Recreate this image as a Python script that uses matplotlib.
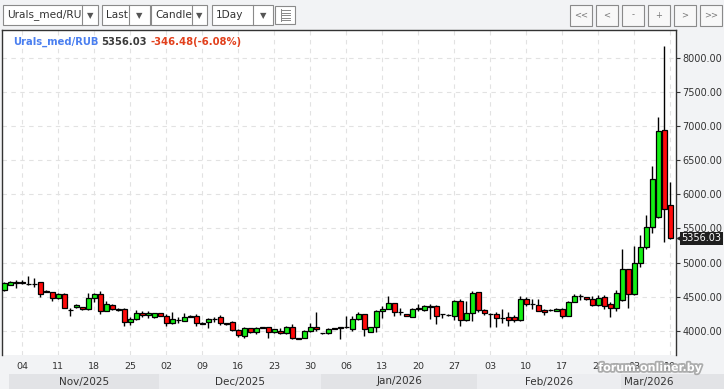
import pandas as pd
import matplotlib
matplotlib.use("Agg")
import matplotlib.pyplot as plt
import matplotlib.patheffects as pe
from matplotlib.patches import Rectangle
from matplotlib.transforms import Bbox, TransformedBbox, blended_transform_factory

W, H = 724, 389

symbol = "Urals_med/RUB"
change_txt = "-346.48(-6.08%)"

# trading days: every day except saturday
first_day = "2025-10-31"
last_day = "2026-03-10"

opens = [
    4600, 4680, 4720, 4710, 4692, 4690, 4712, 4585, 4566, 4478,
    4537, 4312, 4347, 4347, 4318, 4478, 4541, 4297, 4376, 4320,
    4322, 4127, 4171, 4259, 4230, 4200, 4259, 4220, 4113, 4168,
    4151, 4218, 4220, 4112, 4127, 4176, 4200, 4112, 4127, 4015,
    3931, 4039, 3981, 4052, 4054, 3981, 4005, 3966, 4064, 3895,
    3902, 4005, 4054, 3966, 3966, 4038, 4052, 4062, 4025, 4171,
    4244, 3990, 4063, 4293, 4322, 4405, 4282, 4244, 4210, 4332,
    4307, 4347, 4370, 4247, 4237, 4225, 4439, 4161, 4259, 4566,
    4307, 4252, 4244, 4192, 4200, 4200, 4161, 4468, 4392, 4380,
    4307, 4312, 4297, 4322, 4225, 4430, 4516, 4493, 4468, 4380,
    4493, 4390, 4332, 4454, 4903, 4537, 4990, 5233, 5517, 5663,
    6941, 5843]
highs = [
    4715, 4725, 4745, 4740, 4805, 4770, 4720, 4595, 4575, 4560,
    4555, 4335, 4400, 4355, 4552, 4560, 4590, 4435, 4390, 4330,
    4330, 4210, 4303, 4300, 4298, 4265, 4268, 4250, 4283, 4210,
    4270, 4235, 4250, 4125, 4185, 4210, 4235, 4120, 4150, 4025,
    4060, 4050, 4064, 4065, 4065, 4030, 4040, 4070, 4100, 3905,
    4010, 4120, 4273, 3970, 4045, 4050, 4060, 4220, 4220, 4283,
    4250, 4065, 4305, 4370, 4517, 4410, 4340, 4255, 4330, 4400,
    4380, 4390, 4375, 4255, 4245, 4455, 4475, 4439, 4585, 4570,
    4320, 4262, 4280, 4315, 4280, 4240, 4510, 4500, 4475, 4475,
    4317, 4325, 4330, 4340, 4440, 4535, 4540, 4500, 4510, 4530,
    4530, 4420, 4600, 5200, 4910, 5244, 5405, 5697, 6414, 7126,
    8170, 6175]
lows = [
    4590, 4670, 4625, 4690, 4673, 4640, 4495, 4570, 4435, 4470,
    4330, 4225, 4340, 4310, 4310, 4430, 4245, 4290, 4310, 4300,
    4078, 4085, 4160, 4200, 4190, 4195, 4215, 4075, 4105, 4115,
    4145, 4200, 4075, 4100, 4050, 4130, 4090, 4095, 3995, 3915,
    3900, 3975, 3950, 4040, 3893, 3970, 3950, 3960, 3880, 3885,
    3895, 3990, 4000, 3962, 3955, 4025, 3879, 4040, 3995, 4165,
    3931, 3985, 3990, 4190, 4315, 4220, 4235, 4215, 4200, 4290,
    4300, 4180, 4098, 4195, 4225, 4165, 4078, 4150, 4140, 4285,
    4240, 4060, 4060, 4110, 4070, 4130, 4150, 4370, 4320, 4320,
    4240, 4300, 4290, 4195, 4220, 4425, 4450, 4450, 4365, 4365,
    4320, 4210, 4300, 4440, 4332, 4530, 4941, 5200, 5429, 5650,
    5306, 5340]
closes = [
    4705, 4715, 4698, 4702, 4688, 4684, 4541, 4578, 4478, 4541,
    4332, 4305, 4380, 4318, 4478, 4541, 4297, 4390, 4318, 4312,
    4127, 4176, 4259, 4230, 4259, 4259, 4225, 4113, 4171, 4163,
    4200, 4212, 4113, 4106, 4171, 4172, 4113, 4108, 4015, 3941,
    4039, 3981, 4039, 4048, 3981, 4025, 3966, 4064, 3893, 3890,
    4005, 4054, 4025, 3966, 4025, 4032, 4048, 4057, 4171, 4244,
    4025, 4054, 4293, 4322, 4405, 4273, 4278, 4220, 4322, 4328,
    4370, 4370, 4225, 4243, 4233, 4439, 4161, 4259, 4552, 4307,
    4259, 4248, 4186, 4188, 4161, 4161, 4468, 4395, 4388, 4293,
    4283, 4308, 4322, 4225, 4430, 4512, 4514, 4468, 4380, 4478,
    4370, 4332, 4552, 4903, 4537, 4990, 5233, 5517, 6219, 6926,
    5780, 5356.03]

y_ticks = [4000, 4500, 5000, 5500, 6000, 6500, 7000, 7500, 8000]

days = pd.date_range(first_day, last_day)
days = days[days.dayofweek != 5]

UP = "#14ee14"
DOWN = "#ff0a0a"
BG = "#f2f3f5"
TXT = "#333333"


def fr(x0, y0, x1, y1):
    # pixel box (top-left origin) -> figure rect
    return [x0 / W, 1 - y1 / H, (x1 - x0) / W, (y1 - y0) / H]


fig = plt.figure(figsize=(W / 100, H / 100), dpi=100, facecolor=BG)

# ---- main price axes
ax = fig.add_axes(fr(2, 30, 676, 355), facecolor="white")
xmin, xmax = -0.38, 111.95
ax.set_xlim(xmin, xmax)
ax.set_ylim(3649, 8404)

for i in range(len(days)):
    o, h, l, c = opens[i], highs[i], lows[i], closes[i]
    ax.vlines(i, l, h, color="black", lw=1.0, zorder=2)
    ax.bar(i, abs(c - o), bottom=min(o, c), width=0.86,
           color=UP if c >= o else DOWN, edgecolor="black", lw=0.9, zorder=3)

tick_idx = [i for i, d in enumerate(days) if d.dayofweek == 1]
ax.set_xticks(tick_idx)
ax.set_xticklabels([days[i].strftime("%d") for i in tick_idx])
ax.set_yticks(y_ticks)
ax.set_yticklabels([f"{v:.2f}" for v in y_ticks])
ax.yaxis.tick_right()
ax.tick_params(axis="x", length=0, pad=5, labelsize=6.8, labelcolor=TXT)
ax.tick_params(axis="y", length=3, width=0.8, color="#333", pad=1.5,
               labelsize=7, labelcolor=TXT)
ax.grid(color="#e2e2e2", linestyle=(0, (4, 4)), lw=0.8)
ax.set_axisbelow(True)
for s in ["top", "left", "right"]:
    ax.spines[s].set_color("#333")
    ax.spines[s].set_linewidth(1.0)
ax.spines["bottom"].set_visible(False)

# last price tag
blend = blended_transform_factory(ax.transAxes, ax.transData)
ax.plot([1 + 3.5 / 674], [closes[-1]], marker="<", ms=4, color="#1e1e1e",
        transform=blend, clip_on=False)
ax.text(1 + 5.5 / 674, closes[-1], f"{closes[-1]:.2f}", transform=blend,
        ha="left", va="center", color="white", fontsize=7, clip_on=False,
        bbox=dict(boxstyle="square,pad=0.15", fc="#1e1e1e", ec="none"))

# ---- month band row (only months that start inside the range)
bax = fig.add_axes(fr(2, 374, 724, 389))
band_end = xmin + 722 / 6
bax.set_xlim(xmin, band_end)
bax.set_ylim(0, 1)
bax.axis("off")
month_starts = [i for i in range(1, len(days)) if days[i].month != days[i - 1].month]
for k, s in enumerate(month_starts):
    start = s - 0.2
    end = month_starts[k + 1] - 0.2 if k + 1 < len(month_starts) else band_end
    bax.axvspan(start, end, color="#e2e3e6" if k % 2 == 0 else "#ecedf0", lw=0)
    bax.text((start + min(end, xmax)) / 2, 0.5, days[s].strftime("%b/%Y"),
             ha="center", va="center", fontsize=7.5, color=TXT)

# ---- overlay: toolbar, title, watermark (pixel coords)
ov = fig.add_axes([0, 0, 1, 1], facecolor="none")
ov.set_xlim(0, W)
ov.set_ylim(H, 0)
ov.axis("off")

dropdowns = [("Urals_med/RU", 3, 98, 82), ("Last", 102, 150, 129),
             ("Candle", 151, 207, 192), ("1Day", 212, 273, 253)]
for label, x0, x1, dv in dropdowns:
    ov.add_patch(Rectangle((x0, 4.5), x1 - x0, 20.5, fc="white", ec="#8a8a8a", lw=0.8))
    ov.plot([dv, dv], [4.5, 25], color="#8a8a8a", lw=0.8)
    t = ov.text(x0 + 4, 15, label, ha="left", va="center", fontsize=7.6, color=TXT)
    t.set_clip_box(TransformedBbox(Bbox([[x0, 4.5], [dv, 25]]), ov.transData))
    ov.text((dv + x1) / 2, 15.5, "\u25bc", ha="center", va="center", fontsize=6, color="#555")

ov.add_patch(Rectangle((275, 5.5), 20, 18.5, fc="white", ec="#8a8a8a", lw=0.8))
for yy in [10, 12.5, 15, 17.5, 20]:
    ov.plot([282, 290], [yy, yy], color="#888", lw=0.7)
ov.plot([281, 281], [9, 20.5], color="#888", lw=0.7)

buttons = ["<<", "<", "-", "+", ">", ">>"]
for k, b in enumerate(buttons):
    x0 = 570 + 26 * k
    ov.add_patch(Rectangle((x0, 4.5), 21.5, 21, fc="#f8f8f8", ec="#8a8a8a", lw=0.8))
    ov.text(x0 + 10.75, 15, b, ha="center", va="center", fontsize=6, color="#777")

ov.text(12.7, 41.5, symbol, ha="left", va="center", fontsize=7.2,
        fontweight="bold", color="#4a7ff0")
ov.text(101, 41.5, f"{closes[-1]:.2f}", ha="left", va="center", fontsize=7.2,
        fontweight="bold", color="#3a3a3a")
ov.text(150.7, 41.5, change_txt, ha="left", va="center", fontsize=7.2,
        fontweight="bold", color="#e2401c")

ov.text(650, 368, "forum.onliner.by", ha="center", va="center", fontsize=8,
        fontweight="bold", color="white",
        path_effects=[pe.withStroke(linewidth=2.5, foreground="#9a9a9a", alpha=0.8)])

fig.savefig("out.png", dpi=100, facecolor=BG)
